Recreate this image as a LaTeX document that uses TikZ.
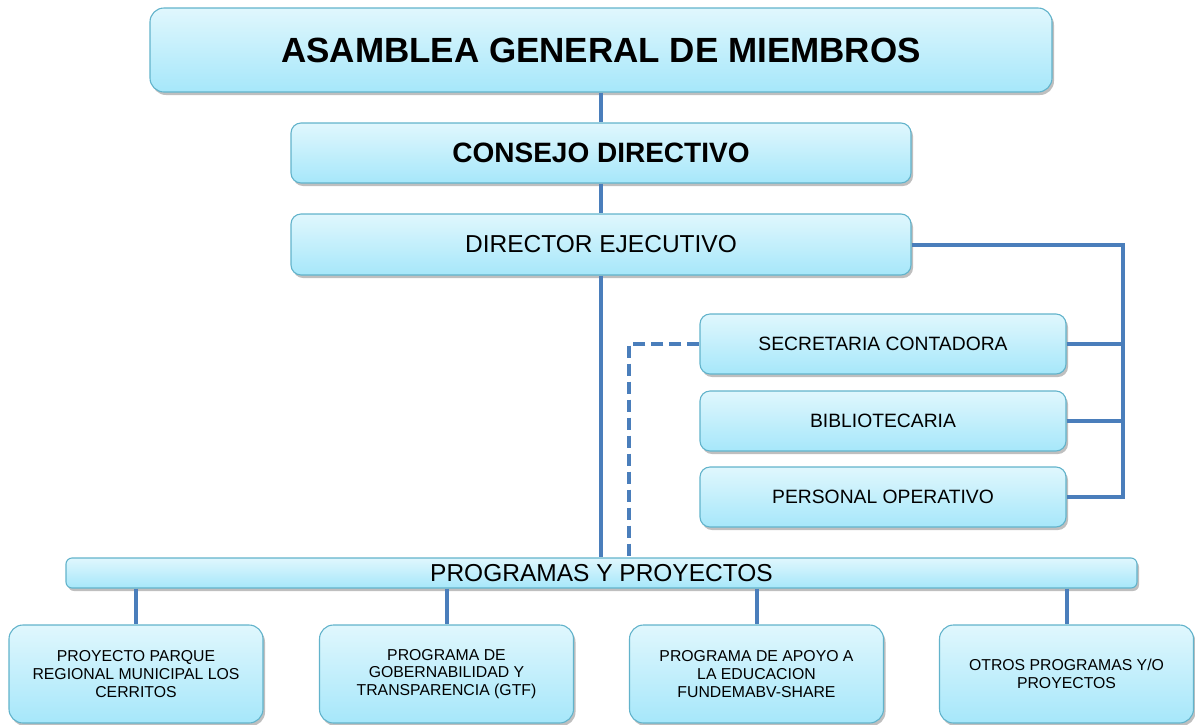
\documentclass[tikz,border=0pt]{standalone}
\usepackage{fontspec}
\setmainfont{Liberation Sans}
\usepackage{tikz}
\usetikzlibrary{shadows}

\definecolor{boxtop}{HTML}{E0F7FD}
\definecolor{boxbottom}{HTML}{A6E7FA}
\definecolor{boxline}{HTML}{62B3CB}
\definecolor{linkblue}{HTML}{4A7EBB}

\tikzset{
  unit/.style={draw=boxline, line width=1.1pt, rounded corners=10pt,
    top color=boxtop, bottom color=boxbottom, align=center, inner sep=2pt,
    drop shadow={shadow xshift=2pt, shadow yshift=-3pt, opacity=0.25, fill=black}},
  link/.style={draw=linkblue, line width=4pt}
}

\begin{document}
\begin{tikzpicture}[x=1pt, y=-1pt]

\useasboundingbox (0, 0) rectangle (1195, 724);

% draw upper units
\node[unit, minimum width=902pt, minimum height=84pt, rounded corners=14pt,
      font=\fontsize{35}{40}\selectfont\bfseries] (asamblea) at (601, 50) {ASAMBLEA GENERAL DE MIEMBROS};
\node[unit, minimum width=620pt, minimum height=60pt,
      font=\fontsize{28}{32}\selectfont\bfseries] (consejo) at (601, 153) {CONSEJO DIRECTIVO};
\node[unit, minimum width=620pt, minimum height=61pt,
      font=\fontsize{24.5}{28}\selectfont] (director) at (601, 244.5) {DIRECTOR EJECUTIVO};

% draw staff units
\node[unit, minimum width=366pt, minimum height=60pt,
      font=\fontsize{19.3}{22}\selectfont] (secretaria) at (883, 344) {SECRETARIA CONTADORA};
\node[unit, minimum width=366pt, minimum height=60pt,
      font=\fontsize{19.3}{22}\selectfont] (biblioteca) at (883, 421) {BIBLIOTECARIA};
\node[unit, minimum width=366pt, minimum height=60pt,
      font=\fontsize{19.3}{22}\selectfont] (personal) at (883, 497) {PERSONAL OPERATIVO};

% draw programs bar
\node[unit, minimum width=1071pt, minimum height=30pt, inner sep=0pt, rounded corners=6pt,
      font=\fontsize{24.5}{28}\selectfont] (programas) at (601.5, 573) {PROGRAMAS Y PROYECTOS};

% draw program units
\node[unit, minimum width=254pt, minimum height=98pt, rounded corners=14pt,
      font=\fontsize{15.8}{17.8}\selectfont] (parque) at (136, 674)
      {PROYECTO PARQUE\\REGIONAL MUNICIPAL LOS\\CERRITOS};
\node[unit, minimum width=254pt, minimum height=98pt, rounded corners=14pt,
      font=\fontsize{15.8}{17.8}\selectfont] (gobernabilidad) at (446.5, 674)
      {PROGRAMA DE\\GOBERNABILIDAD Y\\TRANSPARENCIA (GTF)};
\node[unit, minimum width=254pt, minimum height=98pt, rounded corners=14pt,
      font=\fontsize{15.8}{17.8}\selectfont] (educacion) at (756.5, 674)
      {PROGRAMA DE APOYO A\\LA EDUCACION\\FUNDEMABV-SHARE};
\node[unit, minimum width=254pt, minimum height=98pt, rounded corners=14pt,
      font=\fontsize{15.8}{17.8}\selectfont] (otros) at (1066.5, 674)
      {OTROS PROGRAMAS Y/O\\PROYECTOS};

% draw main chain
\draw[link] (asamblea.south) -- (consejo.north);
\draw[link] (consejo.south) -- (director.north);
\draw[link] (director.south) -- (director.south |- programas.north);

% draw staff bracket
\coordinate (bus) at (1123, 244.5);
\draw[link] (director.east) -- (bus) |- (personal.east);
\draw[link] (secretaria.east) -- (secretaria.east -| bus);
\draw[link] (biblioteca.east) -- (biblioteca.east -| bus);

% draw dashed support line
\coordinate (drop) at (629, 558);
\draw[link, line width=4.8pt, dash pattern=on 12pt off 6pt] (secretaria.west) -| (drop);

% draw program links
\draw[link] (parque.north |- programas.south) -- (parque.north);
\draw[link] (gobernabilidad.north |- programas.south) -- (gobernabilidad.north);
\draw[link] (educacion.north |- programas.south) -- (educacion.north);
\draw[link] (otros.north |- programas.south) -- (otros.north);

\end{tikzpicture}
\end{document}
